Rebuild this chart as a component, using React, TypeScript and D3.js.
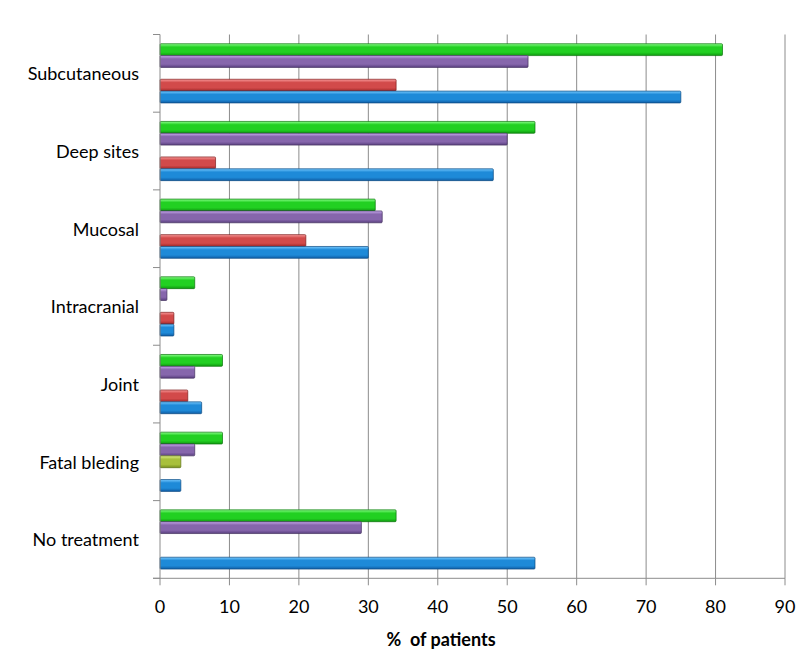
import React from "react";
import * as d3 from "d3";

const categories = ["Subcutaneous", "Deep sites", "Mucosal", "Intracranial", "Joint", "Fatal bleding", "No treatment"];
const seriesNames = ["green", "purple", "olive", "red", "blue"];
const greenValues = [81, 54, 31, 5, 9, 9, 34];
const purpleValues = [53, 50, 32, 1, 5, 5, 29];
const oliveValues = [0, 0, 0, 0, 0, 3, 0];
const redValues = [34, 8, 21, 2, 4, 0, 0];
const blueValues = [75, 48, 30, 2, 6, 3, 54];
const xTicks = [0, 10, 20, 30, 40, 50, 60, 70, 80, 90];

const seriesValues: Record<string, number[]> = {
  green: greenValues,
  purple: purpleValues,
  olive: oliveValues,
  red: redValues,
  blue: blueValues,
};

const palette: Record<string, [string, string, string, string]> = {
  // light, base, dark, stroke
  green: ["#8aff8a", "#22d022", "#109a10", "#0a760a"],
  purple: ["#c8aaee", "#8666ac", "#5a4080", "#44305f"],
  olive: ["#e0f08c", "#a8c03c", "#78901e", "#5c7016"],
  red: ["#f89a9a", "#d24a4a", "#a02828", "#801c1c"],
  blue: ["#78caff", "#1e8ad8", "#105ea6", "#0c4a82"],
};

export default function App() {
  const W = 800;
  const H = 661;
  const x0 = 160;
  const x1 = 785;
  const yTop = 34.5;
  const yBot = 578.3;
  const font = "Lato, 'Open Sans', sans-serif";

  const x = d3.scaleLinear().domain([0, 90]).range([x0, x1]);
  const y = d3.scaleBand<string>().domain(categories).range([yTop, yBot]).paddingInner(0).paddingOuter(0);
  const yInner = d3
    .scaleBand<string>()
    .domain(seriesNames)
    .range([0, y.bandwidth()])
    .paddingInner(0)
    .paddingOuter(0.78);

  const boundaries = categories.map((c) => y(c) as number).concat([yBot]);

  return (
    <svg width={W} height={H} style={{ display: "block", position: "absolute", left: 0, top: 0 }}>
      <defs>
        {seriesNames.map((s) => (
          <linearGradient key={s} id={`g-${s}`} x1="0" y1="0" x2="0" y2="1">
            <stop offset="0" stopColor={palette[s][0]} />
            <stop offset="0.28" stopColor={palette[s][1]} />
            <stop offset="0.72" stopColor={palette[s][1]} />
            <stop offset="1" stopColor={palette[s][2]} />
          </linearGradient>
        ))}
      </defs>
      <rect width={W} height={H} fill="#fff" />
      {xTicks.slice(1).map((t) => (
        <line key={t} x1={x(t)} x2={x(t)} y1={yTop} y2={yBot} stroke="#8c8c8c" strokeWidth={1} />
      ))}
      {seriesNames.map((s) =>
        categories.map((c, i) => {
          const v = seriesValues[s][i];
          if (!v) return null;
          const by = (y(c) as number) + (yInner(s) as number);
          const bh = yInner.bandwidth();
          return (
            <rect
              key={s + c}
              x={x(0)}
              y={by}
              width={x(v) - x(0)}
              height={bh}
              fill={`url(#g-${s})`}
              stroke={palette[s][3]}
              strokeWidth={0.7}
              rx={1}
            />
          );
        })
      )}
      <line x1={x0} x2={x0} y1={yTop} y2={yBot} stroke="#8c8c8c" strokeWidth={1} />
      <line x1={x0 - 7} x2={x1} y1={yBot} y2={yBot} stroke="#8c8c8c" strokeWidth={1} />
      {boundaries.map((b, i) => (
        <line key={i} x1={x0 - 7} x2={x0} y1={b} y2={b} stroke="#8c8c8c" strokeWidth={1} />
      ))}
      {xTicks.map((t) => (
        <line key={t} x1={x(t)} x2={x(t)} y1={yBot} y2={yBot + 7} stroke="#8c8c8c" strokeWidth={1} />
      ))}
      {xTicks.map((t) => (
        <text key={t} x={x(t)} y={606} textAnchor="middle" dominantBaseline="central" fontFamily={font} fontSize={18} fill="#000">
          {t}
        </text>
      ))}
      {categories.map((c) => (
        <text
          key={c}
          x={139}
          y={(y(c) as number) + y.bandwidth() / 2}
          textAnchor="end"
          dominantBaseline="central"
          fontFamily={font}
          fontSize={18}
          fill="#000"
        >
          {c}
        </text>
      ))}
      <text
        x={441}
        y={639}
        textAnchor="middle"
        dominantBaseline="central"
        fontFamily={font}
        fontSize={18}
        fontWeight="bold"
        fill="#000"
        style={{ whiteSpace: "pre" }}
      >
        {"%  of patients"}
      </text>
    </svg>
  );
}
